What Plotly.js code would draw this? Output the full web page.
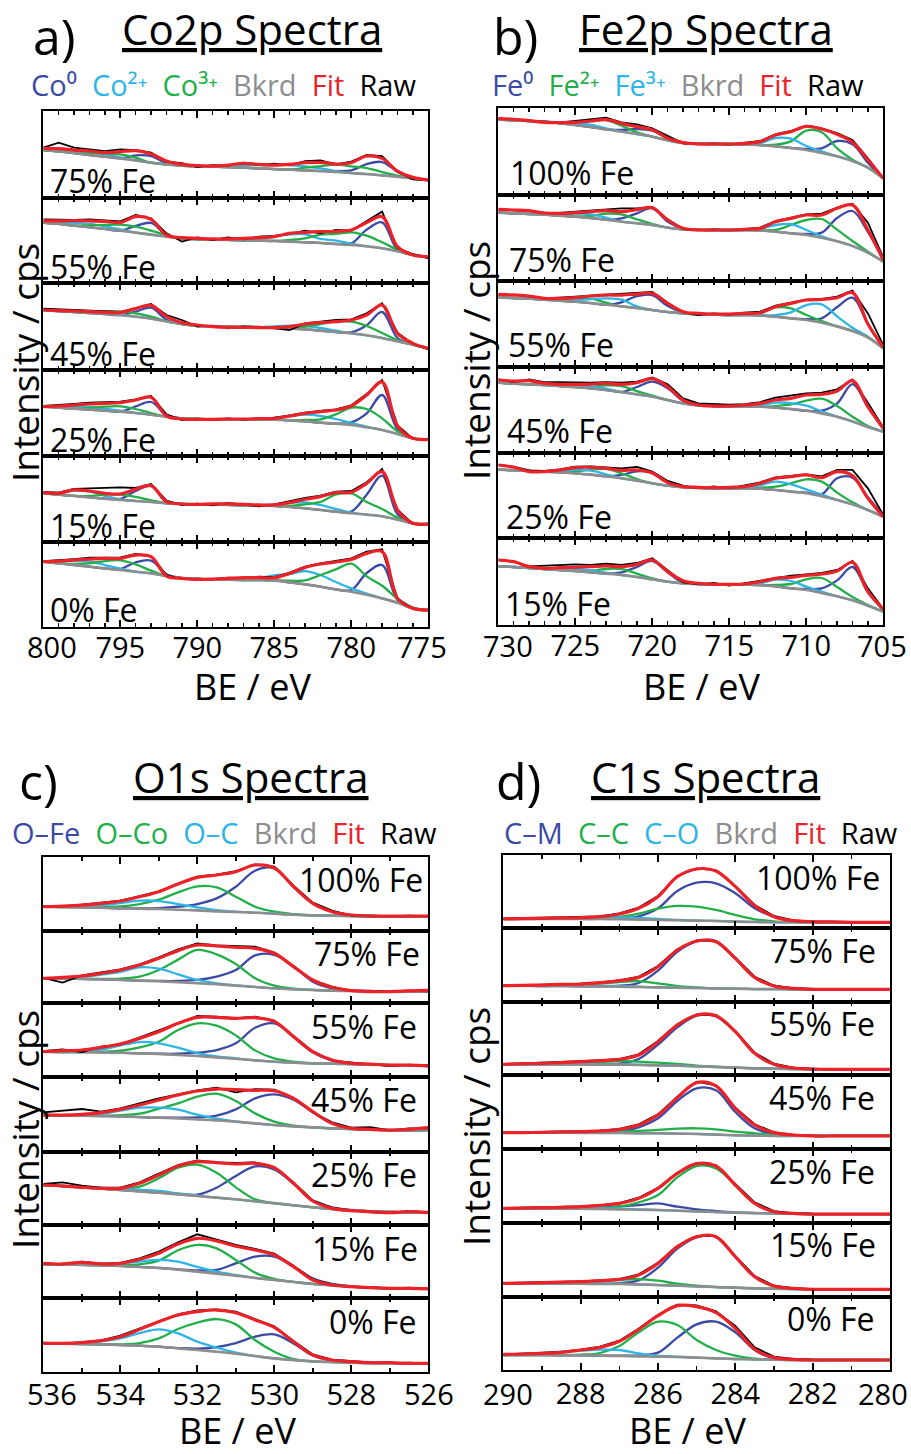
<!DOCTYPE html>
<html><head><meta charset="utf-8">
<script src="https://cdn.plot.ly/plotly-3.0.1.min.js"></script>
<style>html,body{margin:0;padding:0;background:#fff}#chart{width:911px;height:1454px}</style>
</head><body><div id="chart"></div>
<script>
// ---------------- DATA (intensities in arbitrary units) ----------------
// Panel a: Co2p
const CO_BE = [800,799,798,797,796,795,794,793,792,791,790,789,788,787,786,785,784,783,782,781,780,779,778,777,776,775];
const CO_TICKS = [800,795,790,785,780,775];
const CO_LABELS = ['75% Fe','55% Fe','45% Fe','25% Fe','15% Fe','0% Fe'];
const CO_BKRD = [
 [143,139,134,128,123,118,112,105,100,96,94,93,92,90,88,86,84,82,80,77,74,71,67,63,58,53],
 [182,178,173,168,163,158,152,146,140,135,132,131,130,129,128,127,125,123,121,118,115,111,105,96,85,80],
 [180,177,174,171,168,165,160,154,146,138,133,131,130,129,128,127,125,122,118,114,110,104,96,86,76,65],
 [148,145,142,139,136,133,129,124,118,113,111,110,110,110,110,109,107,104,100,97,93,86,78,66,53,50],
 [147,143,139,135,131,127,124,121,117,115,114,113,112,111,110,109,106,102,97,92,87,83,78,68,57,54],
 [195,190,185,180,175,170,165,160,152,146,142,141,141,140,140,139,133,127,120,112,105,96,85,72,55,50]];
// heights of the fitted components above the background
const CO_CO0 = [
 [0,0,0,0,0,0,15,20,3,0,0,0,0,0,0,0,0,0,0,3,8,30,40,15,0,0],
 [0,0,0,0,0,0,20,35,5,0,0,0,0,0,0,0,0,0,0,0,5,50,78,5,0,0],
 [0,0,0,0,0,0,15,33,5,0,0,0,0,0,0,0,0,0,0,0,3,30,78,10,0,0],
 [0,0,0,0,0,0,20,38,5,0,0,0,0,0,0,0,0,0,0,0,8,42,105,14,0,0],
 [0,0,0,0,0,3,30,48,5,0,0,0,0,0,0,0,0,0,0,0,5,60,122,16,0,0],
 [0,0,0,0,0,3,28,38,5,0,0,0,0,0,0,0,0,0,0,0,5,65,100,8,0,0]];
const CO_CO2 = [
 [0,0,5,8,8,3,0,0,0,0,0,0,0,6,10,12,14,12,8,3,0,0,0,0,0,0],
 [0,5,8,10,8,4,0,0,0,0,0,0,0,0,6,14,22,24,12,10,4,0,0,0,0,0],
 [0,0,3,5,4,0,0,0,0,0,0,0,0,0,0,4,8,10,8,4,0,0,0,0,0,0],
 [0,3,6,8,6,3,0,0,0,0,0,0,0,0,0,5,12,20,20,14,6,2,0,0,0,0],
 [0,5,16,18,8,2,0,0,0,0,0,0,0,0,2,5,12,18,15,8,2,0,0,0,0,0],
 [0,5,12,15,10,4,0,0,0,0,0,0,0,0,5,15,25,40,35,22,10,3,0,0,0,0]];
const CO_CO3 = [
 [0,0,0,5,10,12,8,0,0,0,0,0,0,0,0,0,0,8,15,22,20,18,10,3,0,0],
 [0,0,0,6,12,18,18,12,4,0,0,0,0,0,0,0,5,12,25,30,38,32,18,5,0,0],
 [0,0,0,0,8,10,10,6,0,0,0,0,0,0,0,0,0,8,20,32,35,28,15,4,0,0],
 [0,0,0,5,12,16,12,5,0,0,0,0,0,0,0,0,0,4,10,28,52,55,35,8,0,0],
 [0,0,0,4,12,16,12,5,0,0,0,0,0,0,0,0,3,12,24,52,60,38,22,6,0,0],
 [0,0,3,10,22,29,22,8,0,0,0,0,0,0,0,0,5,12,35,60,84,55,38,12,2,0]];
const CO_FIT = [
 [148,147,143,140,135,138,141,131,110,100,96,95,98,103,100,98,100,105,106,101,105,125,118,80,61,53],
 [188,187,188,187,186,182,200,192,145,137,135,133,133,135,137,140,150,153,155,156,160,182,200,110,85,80],
 [180,178,177,175,173,173,184,194,160,142,135,130,128,128,127,127,130,138,142,145,150,165,195,110,80,65],
 [148,150,153,156,158,160,168,176,120,111,110,110,111,111,112,113,120,128,133,138,150,183,222,90,53,50],
 [149,147,157,154,147,145,159,170,122,115,114,115,115,114,112,112,119,129,137,149,150,177,212,97,57,55],
 [195,197,200,203,205,205,215,210,152,145,142,143,145,147,147,147,160,178,188,194,202,220,225,85,55,50]];
const CO_RAW = [
 [150,165,150,146,140,145,143,135,108,104,92,98,96,105,98,102,97,110,112,100,108,128,125,78,55,52],
 [192,190,190,192,190,186,205,195,150,125,138,130,138,132,140,142,148,158,150,160,158,186,215,105,88,75],
 [184,182,180,178,177,174,186,198,165,150,130,133,125,131,130,125,120,140,146,150,152,170,200,112,78,62],
 [150,152,156,160,162,163,170,180,125,108,112,108,113,109,114,115,122,130,135,140,152,186,228,92,52,51],
 [151,149,160,162,165,165,163,175,125,112,116,111,118,113,108,114,124,133,140,152,154,180,220,98,55,56],
 [197,199,203,207,208,208,218,212,155,143,145,142,147,146,150,149,162,180,190,197,205,225,232,84,54,49]];

// Panel b: Fe2p
const FE_BE = [730,729,728,727,726,725,724,723,722,721,720,719,718,717,716,715,714,713,712,711,710,709,708,707,706,705];
const FE_TICKS = [730,725,720,715,710,705];
const FE_LABELS = ['100% Fe','75% Fe','55% Fe','45% Fe','25% Fe','15% Fe'];
const FE_BKRD = [
 [226,224,222,220,215,210,204,197,190,183,175,164,156,154,153,153,152,150,146,141,135,126,116,102,82,50],
 [205,203,201,199,196,193,189,184,178,173,168,160,155,154,153,153,153,152,148,143,138,130,119,105,85,58],
 [208,206,204,201,198,195,191,186,181,176,170,164,160,157,156,155,155,154,150,145,140,132,121,107,88,55],
 [210,207,205,203,200,197,193,188,182,175,168,158,148,142,140,139,139,138,135,131,126,118,108,94,77,63],
 [206,204,202,200,198,195,191,186,180,173,165,158,153,151,150,150,150,149,145,140,135,126,115,102,85,65],
 [176,174,171,168,165,162,158,154,150,144,137,130,125,123,122,122,121,120,116,110,105,96,86,74,58,40]];
const FE_FE0 = [
 [0,0,0,0,0,0,0,0,5,15,18,8,2,0,0,0,0,0,0,0,3,14,46,50,15,0],
 [0,0,0,0,0,0,0,0,10,30,50,18,3,0,0,0,0,0,0,0,3,15,70,105,62,5],
 [0,0,0,0,0,0,0,0,12,36,45,18,3,0,0,0,0,0,0,0,3,13,58,100,40,3],
 [0,0,0,0,0,0,0,0,0,22,45,35,8,0,0,0,0,0,0,0,0,8,40,112,60,8],
 [0,0,0,0,0,0,0,0,10,28,32,12,2,0,0,0,0,0,0,0,2,6,65,80,38,3],
 [0,0,0,0,0,0,0,0,8,30,55,28,2,0,0,0,0,0,0,0,3,14,48,100,40,5]];
const FE_FE2 = [
 [0,0,0,0,0,5,18,28,18,5,0,0,0,0,0,0,0,0,5,20,58,62,24,4,0,0],
 [0,0,0,0,0,0,6,18,22,12,3,0,0,0,0,0,0,0,5,25,45,56,35,15,3,0],
 [0,0,0,0,3,10,13,6,0,0,0,0,0,0,0,0,0,6,28,30,15,5,0,0,0,0],
 [0,0,0,0,0,0,5,14,18,10,3,0,0,0,0,0,0,0,5,14,30,44,32,14,3,0],
 [0,0,0,0,0,5,15,22,15,5,0,0,0,0,0,0,0,3,10,25,42,44,22,6,0,0],
 [0,0,0,0,0,0,5,14,18,10,3,0,0,0,0,0,0,0,4,13,32,45,28,10,2,0]];
const FE_FE3 = [
 [0,0,0,0,3,6,6,3,0,0,0,0,0,0,0,0,0,5,25,28,12,5,0,0,0,0],
 [0,0,0,0,3,9,11,6,0,0,0,0,0,0,0,0,0,5,20,28,15,4,0,0,0,0],
 [0,0,0,0,0,4,12,19,20,5,0,0,0,0,0,0,0,0,5,18,45,55,30,10,2,0],
 [0,0,0,0,0,3,5,4,0,0,0,0,0,0,0,0,0,4,15,18,15,6,0,0,0,0],
 [0,0,0,0,3,10,12,6,0,0,0,0,0,0,0,0,0,10,25,22,12,5,0,0,0,0],
 [0,0,0,0,3,6,6,3,0,0,0,0,0,0,0,0,0,5,20,22,10,4,0,0,0,0]];
const FE_FIT = [
 [230,227,223,218,217,218,222,226,215,205,196,170,157,153,153,153,155,160,180,190,206,198,182,158,105,50],
 [215,213,211,204,203,205,208,211,208,214,220,183,158,153,153,153,155,158,178,188,198,198,218,228,153,63],
 [217,215,212,205,205,207,212,215,215,218,220,190,165,160,158,158,160,162,180,190,200,202,207,222,128,58],
 [218,215,216,208,205,205,206,208,205,210,222,198,158,143,140,140,143,148,158,163,173,175,185,216,138,73],
 [220,213,200,200,205,212,213,210,204,205,196,167,155,153,152,153,155,165,180,185,190,182,200,188,120,65],
 [195,190,175,170,172,173,175,177,175,182,195,160,133,125,122,122,123,130,140,143,149,153,162,188,100,48]];
const FE_RAW = [
 [228,228,222,220,218,222,226,232,218,212,200,178,155,152,155,151,156,162,182,192,208,200,186,165,110,50],
 [214,213,210,204,204,208,212,215,218,218,222,185,156,152,155,152,157,160,180,190,200,202,220,232,175,70],
 [216,216,211,205,207,209,213,216,218,220,224,192,163,155,160,156,162,165,183,192,201,203,210,228,160,65],
 [220,212,220,212,212,210,210,212,210,213,226,205,163,148,146,144,146,152,165,172,178,180,190,220,150,75],
 [220,215,204,202,207,215,216,214,210,214,200,172,158,150,156,150,158,168,183,188,192,186,205,205,150,70],
 [195,190,176,178,180,182,180,184,180,186,200,165,128,122,126,118,126,133,142,148,152,156,165,192,110,48]];

// Panel c: O1s
const O_BE = [536,535.5,535,534.5,534,533.5,533,532.5,532,531.5,531,530.5,530,529.5,529,528.5,528,527.5,527,526.5,526];
const O_TICKS = [536,534,532,530,528,526];
const O_LABELS = ['100% Fe','75% Fe','55% Fe','45% Fe','25% Fe','15% Fe','0% Fe'];
const O_BKRD = [
 [72,71,70,69,67,66,65,63,61,58,56,54,51,48,46,45,44,43,43,42,42],
 [75,74,73,72,70,68,66,63,60,57,53,49,45,42,40,38,37,36,36,35,35],
 [75,74,74,73,72,70,68,65,62,58,54,49,45,42,40,39,38,36,35,34,33],
 [110,109,108,107,106,104,102,100,97,94,90,85,80,76,73,70,68,66,65,64,64],
 [120,117,113,109,105,101,97,92,87,82,77,71,65,59,53,48,44,41,39,38,37],
 [102,101,100,99,97,94,91,86,80,74,68,61,55,49,43,39,35,32,30,29,28],
 [85,84,83,82,80,78,75,70,65,60,54,47,40,35,31,29,27,26,26,25,25]];
const O_OFE = [
 [0,0,0,0,0,1,3,9,19,39,76,126,136,84,36,12,3,0,0,0,0],
 [0,0,0,0,0,0,1,4,10,23,47,95,100,68,25,7,2,0,0,0,0],
 [0,0,0,0,0,0,1,4,10,22,46,98,115,78,33,10,2,0,0,0,0],
 [0,0,0,0,0,0,0,2,6,14,37,75,92,80,45,15,2,0,0,0,0],
 [0,0,0,0,0,0,0,1,4,30,70,105,102,65,20,5,1,0,0,0,0],
 [0,0,0,0,0,0,0,1,4,11,37,64,70,46,17,4,1,0,0,0,0],
 [0,0,0,0,0,0,0,1,4,14,32,58,72,50,18,5,0,0,0,0,0]];
const O_OCO = [
 [0,0,1,3,6,14,28,52,72,72,46,18,6,2,0,0,0,0,0,0,0],
 [0,0,0,1,4,12,34,68,100,90,65,26,8,2,0,0,0,0,0,0,0],
 [0,0,0,2,6,18,37,75,98,95,70,30,10,3,0,0,0,0,0,0,0],
 [0,0,0,1,4,10,27,45,68,80,62,30,10,2,0,0,0,0,0,0,0],
 [0,0,0,0,3,14,43,80,94,75,36,6,1,0,0,0,0,0,0,0,0],
 [0,0,0,0,2,8,22,58,80,76,47,16,3,0,0,0,0,0,0,0,0],
 [0,0,0,0,2,8,25,58,82,98,88,48,20,3,0,0,0,0,0,0,0]];
const O_OC = [
 [0,1,3,8,16,24,24,17,9,4,1,0,0,0,0,0,0,0,0,0,0],
 [0,0,6,14,24,40,38,24,10,3,1,0,0,0,0,0,0,0,0,0,0],
 [0,0,2,8,22,34,32,22,9,3,1,0,0,0,0,0,0,0,0,0,0],
 [0,0,2,7,17,28,30,26,14,5,1,0,0,0,0,0,0,0,0,0,0],
 [0,0,1,2,4,5,5,3,1,0,0,0,0,0,0,0,0,0,0,0,0],
 [0,0,1,3,7,16,24,24,14,6,2,0,0,0,0,0,0,0,0,0,0],
 [0,0,3,9,20,38,52,45,25,12,3,0,0,0,0,0,0,0,0,0,0]];
const O_FIT = [
 [72,74,77,82,89,102,117,140,160,167,177,197,188,132,82,57,47,44,44,44,44],
 [75,78,82,90,100,115,135,158,175,172,168,165,150,110,70,48,38,35,35,37,39],
 [75,78,80,88,98,115,135,160,178,178,175,177,166,120,75,50,40,38,35,35,33],
 [110,110,112,117,127,140,155,170,182,188,186,184,183,160,120,85,70,67,65,67,72],
 [120,117,113,110,110,125,150,177,190,187,183,185,172,125,72,50,43,40,37,40,37],
 [105,103,108,103,105,117,135,163,180,172,156,145,130,95,55,40,35,32,30,30,29],
 [85,85,87,93,105,127,150,170,180,185,177,155,133,90,50,35,30,27,27,25,25]];
const O_RAW = [
 [74,73,78,83,90,104,118,141,162,168,179,199,192,135,84,60,45,46,43,45,43],
 [76,62,84,92,102,117,138,162,180,174,172,170,152,112,68,50,37,38,35,38,36],
 [77,82,74,90,96,118,138,162,182,180,176,180,168,122,76,48,42,36,32,36,30],
 [118,122,128,120,130,145,160,172,184,192,178,188,186,162,118,88,72,74,64,70,70],
 [123,128,118,112,112,128,154,180,194,188,186,188,174,128,74,52,44,38,36,42,38],
 [104,102,110,104,106,120,140,168,192,176,160,148,134,98,56,42,34,34,28,32,28],
 [87,84,89,94,108,130,152,172,184,187,180,158,136,92,52,36,31,28,26,27,24]];

// Panel d: C1s
const C_BE = [290,289.5,289,288.5,288,287.5,287,286.5,286,285.5,285,284.5,284,283.5,283,282.5,282,281.5,281,280.5,280];
const C_TICKS = [290,288,286,284,282,280];
const C_LABELS = ['100% Fe','75% Fe','55% Fe','45% Fe','25% Fe','15% Fe','0% Fe'];
const C_BKRD = [
 [28,28,28,28,28,28,27,26,25,24,23,22,20,19,18,18,17,17,17,17,17],
 [48,48,47,47,46,46,45,44,43,42,41,40,39,38,38,37,37,37,37,37,37],
 [32,32,32,32,32,31,31,30,29,28,26,24,22,20,19,18,17,17,17,17,17],
 [50,50,50,50,49,49,49,48,48,47,46,44,42,41,40,40,40,40,40,40,40],
 [43,43,42,42,42,41,40,39,38,36,34,32,30,29,28,27,26,26,26,26,26],
 [40,40,40,39,39,38,38,37,35,33,31,29,27,25,24,23,22,22,22,22,22],
 [45,45,45,44,44,43,42,41,40,39,37,35,33,32,31,30,30,30,30,30,30]];
const C_CM = [
 [0,0,0,0,0,0,2,10,35,88,114,113,85,41,17,5,2,0,0,0,0],
 [0,0,0,0,0,0,3,12,50,108,140,142,90,35,10,3,0,0,0,0,0],
 [0,0,0,0,0,1,3,18,62,115,152,152,108,45,13,3,1,0,0,0,0],
 [0,0,0,0,0,1,5,18,45,98,137,133,70,22,5,1,0,0,0,0,0],
 [0,0,0,1,2,4,9,14,20,12,6,3,1,0,0,0,0,0,0,0,0],
 [0,0,0,0,0,1,3,12,52,111,147,151,93,35,8,2,0,0,0,0,0],
 [0,0,0,0,0,0,1,3,12,58,100,110,80,28,4,1,0,0,0,0,0]];
const C_CC = [
 [0,0,0,1,2,4,7,18,34,43,42,33,20,8,3,1,0,0,0,0,0],
 [0,0,1,2,4,8,14,18,12,5,2,0,0,0,0,0,0,0,0,0,0],
 [0,0,1,2,4,7,11,10,8,5,2,1,0,0,0,0,0,0,0,0,0],
 [0,0,0,1,1,2,4,7,10,15,17,16,11,7,3,1,0,0,0,0,0],
 [0,0,0,0,1,3,8,22,45,100,136,131,83,29,5,1,0,0,0,0,0],
 [0,0,1,2,4,8,12,16,13,6,2,0,0,0,0,0,0,0,0,0,0],
 [0,0,0,1,2,8,30,72,105,96,53,25,10,2,0,0,0,0,0,0,0]];
const C_CO = [
 [0,0,1,2,3,5,6,5,3,1,0,0,0,0,0,0,0,0,0,0,0],
 [0,0,0,1,1,2,2,1,0,0,0,0,0,0,0,0,0,0,0,0,0],
 [0,0,0,1,1,1,1,1,0,0,0,0,0,0,0,0,0,0,0,0,0],
 [0,0,0,0,1,1,1,0,0,0,0,0,0,0,0,0,0,0,0,0,0],
 [0,0,1,1,2,2,2,1,0,0,0,0,0,0,0,0,0,0,0,0,0],
 [0,0,0,1,1,1,1,0,0,0,0,0,0,0,0,0,0,0,0,0,0],
 [0,2,5,11,14,18,18,9,3,1,0,0,0,0,0,0,0,0,0,0,0]];
const C_FIT = [
 [28,29,30,31,32,35,43,60,95,155,178,172,125,68,35,23,20,19,18,18,18],
 [48,49,50,52,53,57,63,73,105,155,182,180,130,73,47,40,37,37,37,37,37],
 [32,34,35,37,40,43,47,60,100,150,180,178,130,65,32,21,18,17,17,17,17],
 [50,50,51,52,53,55,60,73,103,155,200,190,123,73,50,43,40,40,40,40,40],
 [43,44,45,46,48,52,58,73,103,148,177,170,113,58,33,28,26,26,26,26,26],
 [40,41,42,44,45,48,52,65,100,150,180,180,120,60,32,25,22,22,22,22,22],
 [47,48,50,53,60,68,86,122,163,193,190,172,125,62,37,32,30,30,30,30,30]];
const C_RAW = [
 [29,30,31,32,33,36,45,62,97,157,180,174,127,70,37,24,21,20,19,18,18],
 [48,49,51,52,54,58,64,75,107,157,184,182,132,75,48,41,38,37,37,37,37],
 [33,35,36,38,41,44,48,62,102,152,182,180,132,67,34,22,18,18,17,17,17],
 [50,51,52,53,54,56,61,75,105,158,203,192,125,75,51,44,41,40,40,40,40],
 [44,45,46,47,49,53,59,75,105,150,179,172,115,61,35,29,27,26,26,26,26],
 [41,42,43,45,46,49,53,67,102,152,182,182,122,62,33,26,23,22,22,22,22],
 [47,49,51,54,61,70,88,124,165,196,194,176,132,68,40,33,31,30,30,30,30]];

// ---------------- STYLE / LAYOUT ----------------
const W = 911, H = 1454;
const FONT = 'Open Sans, Noto Sans, sans-serif';
const BLUE = '#3B4BA5', CYAN = '#2DB5E6', GREEN = '#22AF4A', GRAY = '#8D8D8D', RED = '#EC2228', BLACK = '#000000';
const TICK_SIZE = 29;

const panels = [
 {be: CO_BE, ticks: CO_TICKS, labels: CO_LABELS, bk: CO_BKRD, comps: [[CO_CO0, BLUE], [CO_CO2, CYAN], [CO_CO3, GREEN]], fit: CO_FIT, raw: CO_RAW,
  xpx: [43.3, 428.3], ypx: [111, 197.7, 283.3, 370, 456, 542.3, 626.7], range: [800, 775], tick0: 775,
  endShift: [8.5, -6.5], tickY: 646, standoff: -6,
  labPos: (s, top, bot) => ({x: 48, y: bot - 17, xa: 'left'})},
 {be: FE_BE, ticks: FE_TICKS, labels: FE_LABELS, bk: FE_BKRD, comps: [[FE_FE0, BLUE], [FE_FE2, GREEN], [FE_FE3, CYAN]], fit: FE_FIT, raw: FE_RAW,
  xpx: [498.3, 883.3], ypx: [108.3, 195, 281, 366.7, 452.7, 538.3, 625], range: [730, 705], tick0: 705,
  endShift: [9.5, -1], tickY: 645, standoff: -6,
  labPos: (s, top, bot) => ({x: [508, 507, 506, 505, 504, 503][s], y: bot - 22, xa: 'left'})},
 {be: O_BE, ticks: O_TICKS, labels: O_LABELS, bk: O_BKRD, comps: [[O_OFE, BLUE], [O_OCO, GREEN], [O_OC, CYAN]], fit: O_FIT, raw: O_RAW,
  xpx: [43.3, 428.3], ypx: [856.7, 930.7, 1003.3, 1076.7, 1151.7, 1225, 1298.3, 1371.7], range: [536, 526], tick0: 526,
  endShift: [8.5, 1], tickY: 1393, standoff: -4,
  labPos: (s, top, bot) => ({x: [425, 422, 419, 419, 419, 420, 419][s], y: top + 23, xa: 'right'})},
 {be: C_BE, ticks: C_TICKS, labels: C_LABELS, bk: C_BKRD, comps: [[C_CM, BLUE], [C_CC, GREEN], [C_CO, CYAN]], fit: C_FIT, raw: C_RAW,
  xpx: [503.3, 890], ypx: [855, 928.3, 1001.7, 1075, 1149.3, 1222.7, 1296.7, 1370], range: [290, 280], tick0: 280,
  endShift: [4.5, -7], tickY: 1393, standoff: -3,
  labPos: (s, top, bot) => ({x: [882, 878, 877, 877, 877, 878, 877][s], y: top + 22, xa: 'right'})}
];

const traces = [];
const annotations = [];
const layout = {
  width: W, height: H, margin: {l: 0, r: 0, t: 0, b: 0},
  paper_bgcolor: '#fff', plot_bgcolor: 'rgba(0,0,0,0)',
  showlegend: false, hovermode: false, dragmode: false,
  font: {family: FONT, color: BLACK}
};

function ann(x, y, text, size, xanchor, yanchor, extra) {
  annotations.push(Object.assign({
    xref: 'paper', yref: 'paper', x: x / W, y: 1 - y / H, text: text, showarrow: false,
    xanchor: xanchor || 'center', yanchor: yanchor || 'middle',
    font: {family: FONT, size: size, color: BLACK}
  }, extra || {}));
}

let k = 0;
panels.forEach(p => {
  const nSub = p.ypx.length - 1;
  for (let s = 0; s < nSub; s++) {
    k++;
    const xa = k === 1 ? 'x' : 'x' + k, ya = k === 1 ? 'y' : 'y' + k;
    const top = p.ypx[s], bot = p.ypx[s + 1];
    const bk = p.bk[s];
    p.comps.forEach(([arr, col]) => {
      traces.push({x: p.be, y: arr[s].map((v, i) => v + bk[i]), xaxis: xa, yaxis: ya, type: 'scatter', mode: 'lines',
        line: {color: col, width: 2.3, shape: 'spline', smoothing: 1}, hoverinfo: 'skip'});
    });
    traces.push({x: p.be, y: bk, xaxis: xa, yaxis: ya, type: 'scatter', mode: 'lines',
      line: {color: GRAY, width: 2.6, shape: 'spline', smoothing: 1}, hoverinfo: 'skip'});
    traces.push({x: p.be, y: p.raw[s], xaxis: xa, yaxis: ya, type: 'scatter', mode: 'lines',
      line: {color: BLACK, width: 1.8}, hoverinfo: 'skip'});
    traces.push({x: p.be, y: p.fit[s], xaxis: xa, yaxis: ya, type: 'scatter', mode: 'lines',
      line: {color: RED, width: 3.2, shape: 'spline', smoothing: 1}, hoverinfo: 'skip'});

    const isBottom = s === nSub - 1;
    const inner = p.ticks.slice(1, -1);
    layout['xaxis' + (k === 1 ? '' : k)] = {
      domain: [p.xpx[0] / W, p.xpx[1] / W], anchor: ya, range: p.range, autorange: false,
      showline: true, linecolor: BLACK, linewidth: 2, mirror: 'allticks',
      ticks: 'inside', ticklen: 7, tickwidth: 2, tickcolor: BLACK,
      tickmode: 'array', tickvals: inner, ticktext: inner.map(String),
      minor: {tickmode: 'linear', dtick: 1, tick0: p.tick0, ticks: 'inside', ticklen: 4, tickwidth: 1.5, tickcolor: BLACK},
      showticklabels: isBottom, tickfont: {family: FONT, size: TICK_SIZE, color: BLACK},
      ticklabelstandoff: p.standoff,
      showgrid: false, zeroline: false, fixedrange: true
    };
    layout['yaxis' + (k === 1 ? '' : k)] = {
      domain: [1 - bot / H, 1 - top / H], anchor: xa, range: [0, 3 * (bot - top)], autorange: false,
      showline: true, linecolor: BLACK, linewidth: 2, mirror: true, ticks: '', showticklabels: false,
      showgrid: false, zeroline: false, fixedrange: true
    };
    if (isBottom) {
      // end-of-axis tick labels sit slightly inside the frame, as in the reference
      [0, p.ticks.length - 1].forEach((ti, j) => {
        annotations.push({xref: xa, yref: 'paper', x: p.ticks[ti], y: 1 - p.tickY / H, xshift: p.endShift[j],
          text: String(p.ticks[ti]), showarrow: false, xanchor: 'center', yanchor: 'middle',
          font: {family: FONT, size: TICK_SIZE, color: BLACK}});
      });
    }
    const lp = p.labPos(s, top, bot);
    ann(lp.x, lp.y, p.labels[s], 32, lp.xa, 'middle');
  }
});

// Titles
ann(54, 36, 'a)', 50); ann(252, 29, '<u>Co2p Spectra</u>', 42);
ann(515, 36, 'b)', 50); ann(706, 29, '<u>Fe2p Spectra</u>', 42);
ann(38, 781, 'c)', 50); ann(251, 776, '<u>O1s Spectra</u>', 42);
ann(518, 781, 'd)', 50); ann(705, 776, '<u>C1s Spectra</u>', 42);

// Legends (coloured text)
const sp = (c, t) => '<span style="color:' + c + '">' + t + '</span>';
const GAP = '\u00a0 ';
ann(223.5, 85, [sp(BLUE, 'Co⁰'), sp(CYAN, 'Co²⁺'), sp(GREEN, 'Co³⁺'), sp(GRAY, 'Bkrd'), sp(RED, 'Fit'), sp(BLACK, 'Raw')].join(GAP), 29);
ann(678, 85, [sp(BLUE, 'Fe⁰'), sp(GREEN, 'Fe²⁺'), sp(CYAN, 'Fe³⁺'), sp(GRAY, 'Bkrd'), sp(RED, 'Fit'), sp(BLACK, 'Raw')].join(GAP), 29);
ann(224.5, 832, [sp(BLUE, 'O–Fe'), sp(GREEN, 'O–Co'), sp(CYAN, 'O–C'), sp(GRAY, 'Bkrd'), sp(RED, 'Fit'), sp(BLACK, 'Raw')].join(GAP), 29);
ann(700.5, 832, [sp(BLUE, 'C–M'), sp(GREEN, 'C–C'), sp(CYAN, 'C–O'), sp(GRAY, 'Bkrd'), sp(RED, 'Fit'), sp(BLACK, 'Raw')].join(GAP), 29);

// Axis titles
ann(252.5, 687, 'BE / eV', 36); ann(701, 687, 'BE / eV', 36);
ann(237, 1430, 'BE / eV', 36); ann(687, 1430, 'BE / eV', 36);
ann(24, 363, 'Intensity / cps', 37, 'center', 'middle', {textangle: -90});
ann(475, 361, 'Intensity / cps', 37, 'center', 'middle', {textangle: -90});
ann(24, 1130, 'Intensity / cps', 37, 'center', 'middle', {textangle: -90});
ann(475, 1127, 'Intensity / cps', 37, 'center', 'middle', {textangle: -90});

layout.annotations = annotations;
Plotly.newPlot('chart', traces, layout, {staticPlot: true, displayModeBar: false});
</script></body></html>
